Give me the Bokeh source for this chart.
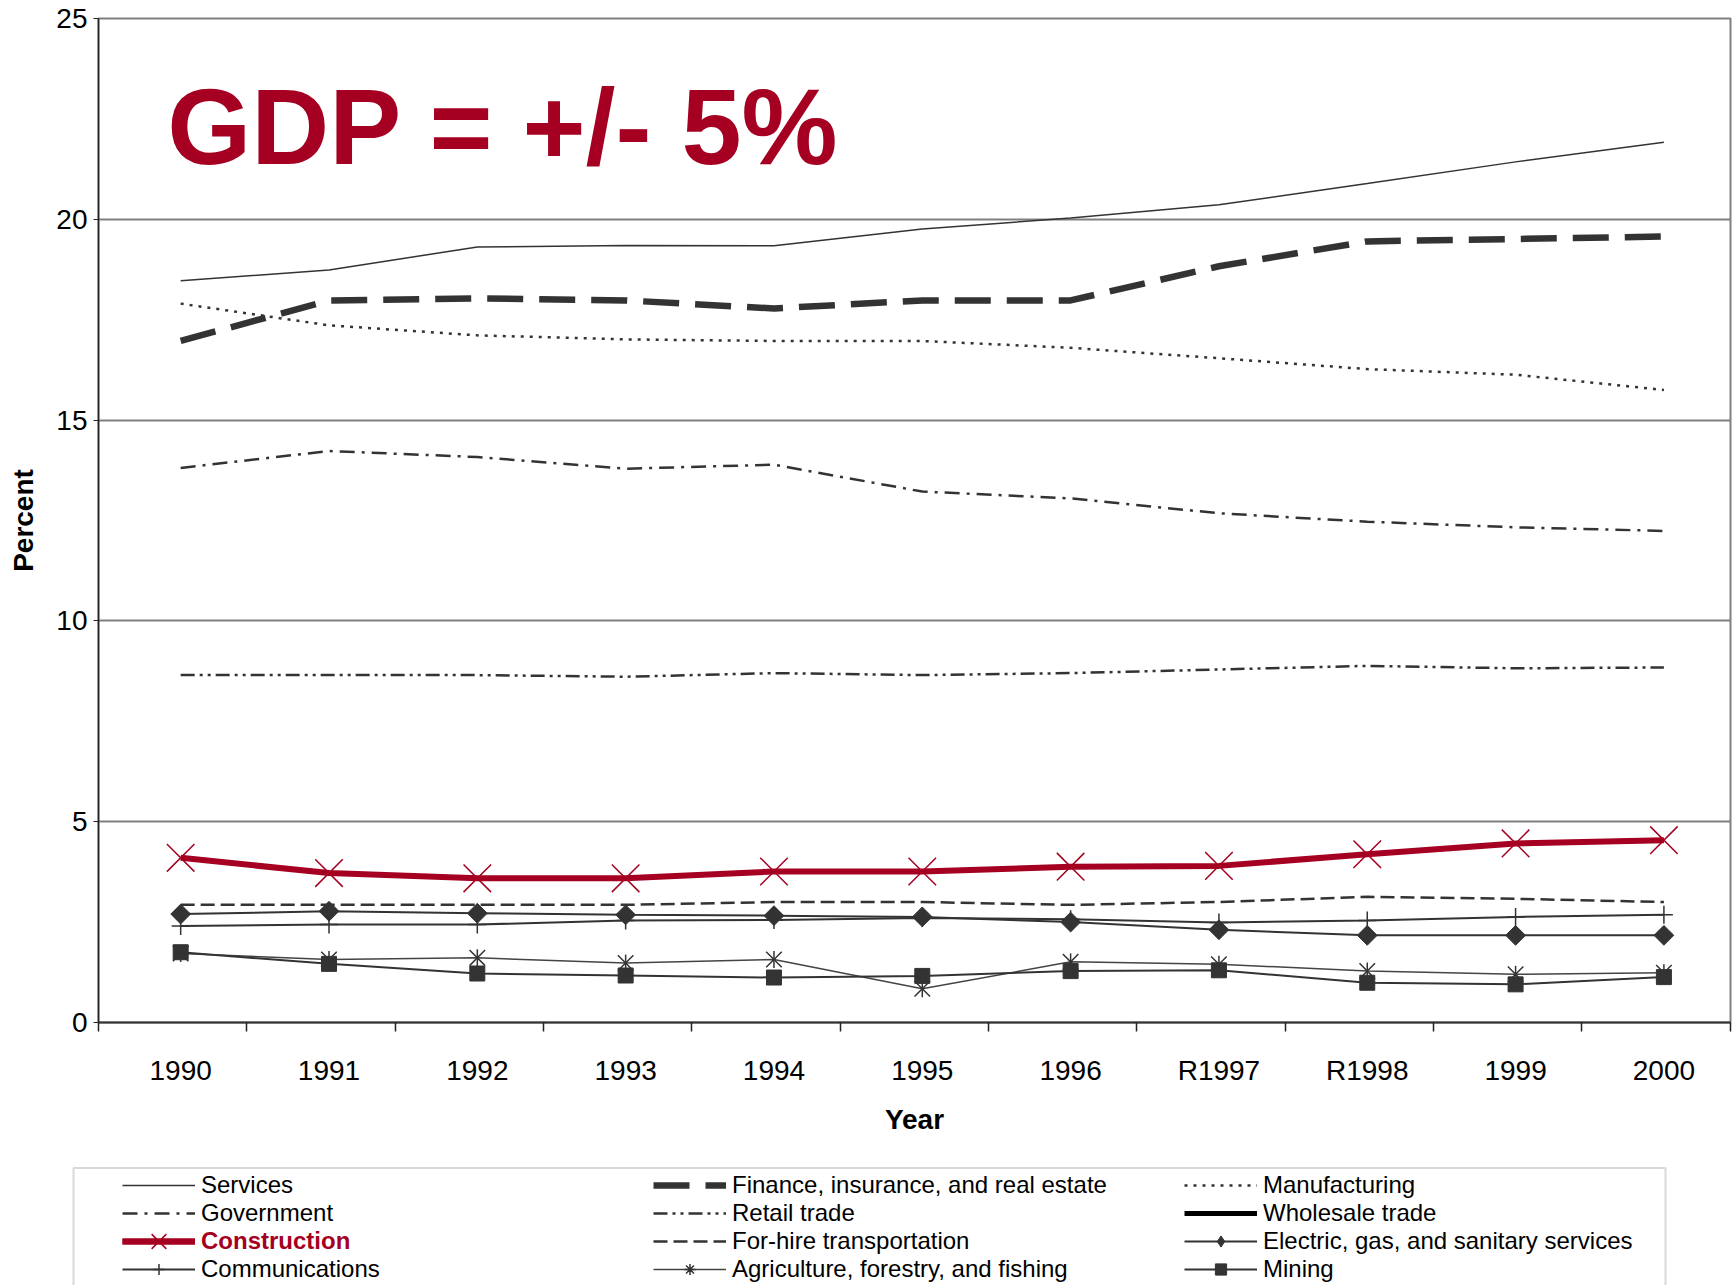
import math

from bokeh.embed import file_html
from bokeh.layouts import column
from bokeh.models import BoxAnnotation, FixedTicker, Label, Legend, LegendItem, Range1d
from bokeh.plotting import figure
from bokeh.resources import INLINE

nan = float("nan")

# Share of GDP by industry, percent
years = ["1990", "1991", "1992", "1993", "1994", "1995", "1996", "R1997", "R1998", "1999", "2000"]
services = [18.47, 18.74, 19.31, 19.35, 19.34, 19.76, 20.03, 20.36, 20.89, 21.43, 21.92]
finance = [16.97, 17.98, 18.03, 17.98, 17.78, 17.98, 17.98, 18.83, 19.45, 19.51, 19.57]
manufacturing = [17.90, 17.36, 17.11, 17.01, 16.97, 16.97, 16.80, 16.54, 16.27, 16.13, 15.75]
government = [13.81, 14.23, 14.08, 13.79, 13.89, 13.22, 13.05, 12.68, 12.47, 12.33, 12.24]
retail = [8.65, 8.65, 8.65, 8.61, 8.70, 8.65, 8.70, 8.79, 8.88, 8.82, 8.84]
# wholesale trade is listed in the key but has no plotted values
wholesale = [nan, nan, nan, nan, nan, nan, nan, nan, nan, nan, nan]
construction = [4.10, 3.72, 3.59, 3.59, 3.76, 3.76, 3.88, 3.90, 4.19, 4.46, 4.54]
for_hire = [2.93, 2.93, 2.93, 2.93, 3.00, 3.00, 2.93, 3.00, 3.13, 3.08, 3.00]
electric = [2.70, 2.77, 2.72, 2.68, 2.66, 2.63, 2.50, 2.31, 2.17, 2.17, 2.17]
communications = [2.40, 2.44, 2.44, 2.54, 2.55, 2.60, 2.57, 2.49, 2.54, 2.63, 2.68]
agriculture = [1.72, 1.57, 1.61, 1.48, 1.57, 0.84, 1.51, 1.45, 1.28, 1.20, 1.24]
mining = [1.75, 1.46, 1.22, 1.17, 1.12, 1.16, 1.28, 1.30, 0.99, 0.95, 1.13]
y_ticks = [0, 5, 10, 15, 20, 25]

FONT = "Liberation Sans"
INK = "#333333"
RED = "#A50021"
GRID = "#808080"

W = 1733
MAIN_H = 1160
KEY_H = 1285 - MAIN_H

x = list(range(len(years)))
x_start = -0.554
x_end = 10.449

p = figure(
    width=W, height=MAIN_H, output_backend="svg", toolbar_location=None,
    x_range=Range1d(x_start, x_end), y_range=Range1d(0, 25),
    min_border_left=98, min_border_right=3, min_border_top=18, min_border_bottom=MAIN_H - 1022,
)
p.frame_align = False
p.background_fill_color = "white"
p.border_fill_color = "white"
p.outline_line_color = GRID
p.outline_line_width = 2

p.xgrid.visible = False
p.ygrid.ticker = FixedTicker(ticks=y_ticks)
p.ygrid.grid_line_color = GRID
p.ygrid.grid_line_width = 2

# y axis
p.yaxis.ticker = FixedTicker(ticks=y_ticks)
p.yaxis.major_tick_out = 5
p.yaxis.major_tick_in = 0
p.yaxis.minor_tick_line_color = None
p.yaxis.axis_line_color = "#222222"
p.yaxis.axis_line_width = 1.5
p.yaxis.major_tick_line_color = "#222222"
p.yaxis.major_label_text_font = FONT
p.yaxis.major_label_text_font_size = "28px"
p.yaxis.major_label_text_color = "black"
p.yaxis.major_label_standoff = 6
p.yaxis.axis_label = "Percent"
p.yaxis.axis_label_text_font = FONT
p.yaxis.axis_label_text_font_size = "28px"
p.yaxis.axis_label_text_font_style = "bold"
p.yaxis.axis_label_text_color = "black"
p.yaxis.axis_label_standoff = 14

# x axis: labels at the years, tick marks between categories
p.xaxis.ticker = FixedTicker(ticks=x, minor_ticks=[x_start + k for k in range(len(years) + 1)])
p.xaxis.major_label_overrides = {i: lab for i, lab in enumerate(years)}
p.xaxis.major_tick_out = 0
p.xaxis.major_tick_in = 0
p.xaxis.minor_tick_out = 9
p.xaxis.minor_tick_in = 0
p.xaxis.minor_tick_line_color = "#222222"
p.xaxis.minor_tick_line_width = 1.5
p.xaxis.axis_line_color = "#333333"
p.xaxis.axis_line_width = 2
p.xaxis.major_label_text_font = FONT
p.xaxis.major_label_text_font_size = "28px"
p.xaxis.major_label_text_color = "black"
p.xaxis.major_label_standoff = 23
p.xaxis.axis_label = "Year"
p.xaxis.axis_label_text_font = FONT
p.xaxis.axis_label_text_font_size = "28px"
p.xaxis.axis_label_text_font_style = "bold"
p.xaxis.axis_label_text_color = "black"
p.xaxis.axis_label_standoff = 15

# line and marker styles per series; "key_marks" replace the marks in the key samples
styles = {
    "services": dict(line=dict(line_color=INK, line_width=1.5)),
    "finance": dict(line=dict(line_color=INK, line_width=6.5, line_dash="36 16")),
    "manufacturing": dict(line=dict(line_color=INK, line_width=2.5, line_dash="3 6")),
    "government": dict(line=dict(line_color=INK, line_width=2.5, line_dash="15 7 3 7")),
    "retail": dict(line=dict(line_color=INK, line_width=2.5, line_dash="14 5 3 5 3 5")),
    "wholesale": dict(line=dict(line_color="black", line_width=5)),
    "for_hire": dict(line=dict(line_color=INK, line_width=2.5, line_dash="14 6")),
    "electric": dict(line=dict(line_color=INK, line_width=2),
                     marks=[dict(marker="square", angle=math.pi / 4, size=14,
                                 fill_color=INK, line_color=INK)],
                     key_marks=[dict(marker="diamond", fill_color=INK, line_color=INK)]),
    "communications": dict(line=dict(line_color=INK, line_width=2),
                           marks=[dict(marker="cross", size=18, line_color=INK, line_width=1.5)]),
    "agriculture": dict(line=dict(line_color="#444444", line_width=1.5),
                        marks=[dict(marker="x", size=22, line_color=INK, line_width=1.5),
                               dict(marker="dash", angle=math.pi / 2, size=17,
                                    line_color=INK, line_width=1.5)],
                        key_marks=[dict(marker="asterisk", line_color=INK, line_width=1.5)]),
    "mining": dict(line=dict(line_color=INK, line_width=2),
                   marks=[dict(marker="square", size=15, fill_color=INK, line_color=INK)]),
    "construction": dict(line=dict(line_color=RED, line_width=6),
                         marks=[dict(marker="x", size=39, line_color=RED, line_width=1.5)]),
}

series = {
    "services": services, "finance": finance, "manufacturing": manufacturing,
    "government": government, "retail": retail, "wholesale": wholesale,
    "for_hire": for_hire, "electric": electric, "communications": communications,
    "agriculture": agriculture, "mining": mining, "construction": construction,
}


def draw(fig, key, xs, ys, visible=True, for_key=False):
    st = styles[key]
    rs = [fig.line(xs, ys, visible=visible, **st["line"])]
    marks = st.get("key_marks", st.get("marks", [])) if for_key else st.get("marks", [])
    for m in marks:
        rs.append(fig.scatter(xs, ys, visible=visible, **m))
    return rs


for key, vals in series.items():
    draw(p, key, x, vals)

# headline
p.add_layout(Label(x=-0.09, y=22.3, text="GDP = +/- 5%", text_font=FONT,
                   text_font_size="108px", text_font_style="bold", text_color=RED,
                   text_align="left", text_baseline="alphabetic"))

# key panel under the chart
q = figure(
    width=W, height=KEY_H, output_backend="svg", toolbar_location=None,
    x_range=Range1d(0, W), y_range=Range1d(0, KEY_H),
    x_axis_type=None, y_axis_type=None,
    min_border_left=0, min_border_right=0, min_border_top=0, min_border_bottom=0,
)
q.frame_align = False
q.outline_line_color = None
q.background_fill_color = "white"
q.border_fill_color = "white"
q.xgrid.visible = False
q.ygrid.visible = False

# hidden copies of each series carry the key's line and marker samples
proxy = {key: draw(q, key, x, vals, visible=False, for_key=True) for key, vals in series.items()}

legend_style = dict(
    orientation="vertical", glyph_width=73, label_standoff=6, spacing=0, padding=0,
    margin=0, click_policy="none",
    label_text_font=FONT, label_text_font_size="24px", label_text_color="black",
    border_line_alpha=0, background_fill_alpha=0, inactive_fill_alpha=0,
)
ROW = 28
order = [
    ("Services", "services"), ("Government", "government"), (" ", "construction"),
    ("Communications", "communications"),
    ("Finance, insurance, and real estate", "finance"), ("Retail trade", "retail"),
    ("For-hire transportation", "for_hire"), ("Agriculture, forestry, and fishing", "agriculture"),
    ("Manufacturing", "manufacturing"), ("Wholesale trade", "wholesale"),
    ("Electric, gas, and sanitary services", "electric"), ("Mining", "mining"),
]
row_top = 11
items = []
for lab, k in order:
    rs = proxy[k][:1] if k == "construction" else proxy[k]
    items.append(LegendItem(label=lab, renderers=rs))
key_all = Legend(
    items=items, ncols=3, label_width=452, glyph_height=ROW, label_height=ROW,
    location=(122, KEY_H - row_top - 4 * ROW), **legend_style,
)
q.add_layout(key_all)

# construction entry: larger sample box so its cross mark matches the plotted ones
CON_H = 52
con_center = row_top + 2 * ROW + ROW / 2
key_con = Legend(
    items=[LegendItem(label="Construction", renderers=proxy["construction"])],
    glyph_height=CON_H, label_height=CON_H,
    location=(122, KEY_H - (con_center - CON_H / 2) - CON_H), **legend_style,
)
key_con.label_text_color = RED
key_con.label_text_font_style = "bold"
q.add_layout(key_con)

q.add_layout(BoxAnnotation(left=73, right=1665, top=KEY_H - 7.5, bottom=-50,
                           fill_alpha=0, line_color=GRID, line_width=2))

open("out.html", "w").write(file_html(column(p, q, spacing=0), INLINE))
